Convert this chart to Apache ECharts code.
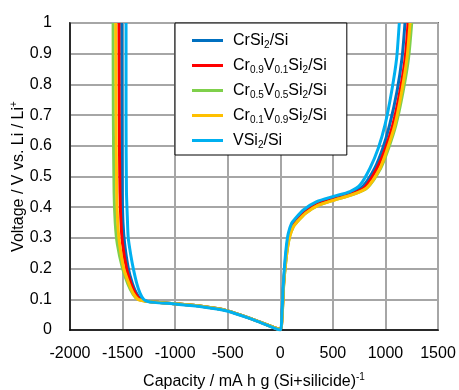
<!DOCTYPE html>
<html>
<head>
<meta charset="utf-8">
<script src="https://cdn.jsdelivr.net/npm/echarts@6/dist/echarts.min.js"></script>
<style>
html,body{margin:0;padding:0;background:#fff;}
#chart{width:459px;height:390px;}
</style>
</head>
<body>
<div id="chart"></div>
<script>
// Series names
var seriesNames = ['CrSi2/Si', 'Cr0.9V0.1Si2/Si', 'Cr0.5V0.5Si2/Si', 'Cr0.1V0.9Si2/Si', 'VSi2/Si'];

// tick values
var xTicks = [-2000, -1500, -1000, -500, 0, 500, 1000, 1500];
var yTicks = [0, 0.1, 0.2, 0.3, 0.4, 0.5, 0.6, 0.7, 0.8, 0.9, 1];

// [capacity, voltage] pairs: discharge (negative) then charge (positive)
var crSi2 = [
  [-1508,1.0],[-1506,0.7],[-1503,0.45],[-1496,0.35],[-1480,0.28],[-1445,0.2],[-1405,0.15],[-1365,0.118],[-1325,0.1],[-1275,0.094],[-1200,0.091],
  [-983,0.085],[-750,0.077],[-508,0.063],[-254,0.034],[-127,0.017],[0,0.002],
  [14,0.035],[31,0.15],[48,0.225],[64,0.275],[82,0.31],[115,0.342],[150,0.358],[230,0.386],[350,0.412],[510,0.43],[670,0.446],[790,0.47],
  [898,0.527],[975,0.592],[1040,0.668],[1110,0.777],[1158,0.886],[1186,1.0]
];
var cr09v01 = [
  [-1535,1.0],[-1532,0.7],[-1525,0.45],[-1515,0.35],[-1500,0.28],[-1462,0.2],[-1418,0.15],[-1375,0.117],[-1335,0.1],[-1280,0.094],[-1200,0.091],
  [-983,0.085],[-750,0.077],[-508,0.063],[-254,0.034],[-127,0.017],[0,0.002],
  [15,0.035],[32,0.15],[50,0.222],[67,0.272],[86,0.307],[120,0.339],[155,0.355],[235,0.383],[355,0.409],[515,0.427],[675,0.443],[805,0.466],
  [920,0.527],[1000,0.592],[1070,0.668],[1138,0.777],[1188,0.886],[1215,1.0]
];
var cr05v05 = [
  [-1590,1.0],[-1588,0.7],[-1581,0.45],[-1570,0.35],[-1550,0.28],[-1500,0.2],[-1450,0.15],[-1400,0.116],[-1355,0.1],[-1285,0.094],[-1200,0.091],
  [-983,0.085],[-750,0.077],[-508,0.063],[-254,0.034],[-127,0.017],[0,0.002],
  [16,0.035],[33,0.15],[52,0.22],[70,0.27],[90,0.305],[125,0.337],[160,0.352],[240,0.38],[360,0.406],[520,0.424],[680,0.44],[826,0.463],
  [955,0.527],[1030,0.592],[1100,0.668],[1168,0.777],[1220,0.886],[1250,1.0]
];
var cr01v09 = [
  [-1565,1.0],[-1562,0.7],[-1556,0.45],[-1546,0.35],[-1528,0.28],[-1488,0.2],[-1438,0.15],[-1393,0.116],[-1350,0.099],[-1282,0.094],[-1200,0.091],
  [-983,0.085],[-750,0.077],[-508,0.063],[-254,0.034],[-127,0.017],[0,0.002],
  [16,0.035],[33,0.15],[52,0.22],[70,0.27],[90,0.305],[125,0.337],[160,0.352],[240,0.38],[360,0.406],[520,0.424],[680,0.44],[822,0.463],
  [948,0.527],[1020,0.592],[1090,0.668],[1155,0.777],[1205,0.886],[1234,1.0]
];
var vSi2 = [
  [-1467,1.0],[-1467,0.7],[-1463,0.45],[-1455,0.37],[-1446,0.3],[-1420,0.24],[-1398,0.2],[-1366,0.153],[-1334,0.12],[-1300,0.1],[-1260,0.093],[-1200,0.09],
  [-983,0.084],[-750,0.076],[-508,0.062],[-254,0.033],[-127,0.016],[0,0.0],
  [13,0.035],[29,0.15],[45,0.228],[60,0.28],[76,0.315],[108,0.348],[140,0.362],[219,0.391],[346,0.418],[504,0.435],[663,0.451],[760,0.473],
  [853,0.527],[932,0.592],[996,0.668],[1059,0.777],[1107,0.886],[1132,1.0]
];

var seriesData = [crSi2, cr09v01, cr05v05, cr01v09, vSi2];
var colors = ['#0070C0', '#FF0000', '#7FD04B', '#FFC000', '#00B0F0'];

var legendRich = {
  'CrSi2/Si': '{n|CrSi}{s|2}{n|/Si}',
  'Cr0.9V0.1Si2/Si': '{n|Cr}{s|0.9}{n|V}{s|0.1}{n|Si}{s|2}{n|/Si}',
  'Cr0.5V0.5Si2/Si': '{n|Cr}{s|0.5}{n|V}{s|0.5}{n|Si}{s|2}{n|/Si}',
  'Cr0.1V0.9Si2/Si': '{n|Cr}{s|0.1}{n|V}{s|0.9}{n|Si}{s|2}{n|/Si}',
  'VSi2/Si': '{n|VSi}{s|2}{n|/Si}'
};

var FONT = 'Liberation Sans, Arial, sans-serif';
var chart = echarts.init(document.getElementById('chart'), null, {renderer: 'canvas'});

var series = seriesNames.map(function (name, i) {
  return {
    name: name,
    type: 'line',
    data: seriesData[i],
    showSymbol: false,
    smooth: 0.25,
    lineStyle: {width: 3, color: colors[i]},
    itemStyle: {color: colors[i]},
    z: 2 + i,
    animation: false
  };
});

chart.setOption({
  animation: false,
  backgroundColor: '#ffffff',
  grid: {left: 70, right: 21, top: 23, bottom: 60, containLabel: false, outerBoundsMode: 'none',
    show: true, borderColor: '#000', borderWidth: 1.5, backgroundColor: 'transparent'},
  legend: {
    orient: 'vertical',
    left: 175,
    top: 23,
    data: seriesNames,
    icon: 'rect',
    itemWidth: 31,
    itemHeight: 3,
    itemGap: 6,
    padding: [8, 20, 5, 17],
    borderColor: '#000',
    borderWidth: 1,
    backgroundColor: '#fff',
    formatter: function (name) { return legendRich[name]; },
    textStyle: {
      padding: [0, 0, 0, 5],
      rich: {
        n: {fontSize: 16, fontFamily: FONT, color: '#000', lineHeight: 20},
        s: {fontSize: 10, fontFamily: FONT, color: '#000', lineHeight: 20, padding: [9, 0, 0, 0]}
      }
    }
  },
  xAxis: {
    type: 'value',
    min: -2000, max: 1500, interval: 500,
    name: '{n|Capacity / mA h g (Si+silicide)}{sup|-1}',
    nameLocation: 'middle',
    nameGap: 42,
    nameTextStyle: {
      rich: {
        n: {fontSize: 16, fontFamily: FONT, color: '#000'},
        sup: {fontSize: 10, fontFamily: FONT, color: '#000', padding: [0, 0, 9, 0]}
      }
    },
    axisLine: {show: true, onZero: false, lineStyle: {color: '#000', width: 1.5}},
    axisTick: {show: false},
    axisLabel: {fontSize: 16, fontFamily: FONT, color: '#000', margin: 16,
      formatter: function (v) { return String(v); }},
    splitLine: {show: true, lineStyle: {color: '#A6A6A6', width: 2}}
  },
  yAxis: {
    type: 'value',
    min: 0, max: 1, interval: 0.1,
    name: '{n|Voltage / V vs. Li / Li}{sup|+}',
    nameLocation: 'middle',
    nameGap: 42,
    nameMoveOverlap: false,
    nameRotate: 90,
    nameTextStyle: {
      rich: {
        n: {fontSize: 16, fontFamily: FONT, color: '#000'},
        sup: {fontSize: 10, fontFamily: FONT, color: '#000', padding: [0, 0, 9, 0]}
      }
    },
    axisLine: {show: true, onZero: false, lineStyle: {color: '#000', width: 1.5}},
    axisTick: {show: false},
    axisLabel: {fontSize: 16, fontFamily: FONT, color: '#000', margin: 18,
      formatter: function (v) { return String(Math.round(v * 10) / 10); }},
    splitLine: {show: true, lineStyle: {color: '#A6A6A6', width: 2}}
  },
  series: series
});
</script>
</body>
</html>
